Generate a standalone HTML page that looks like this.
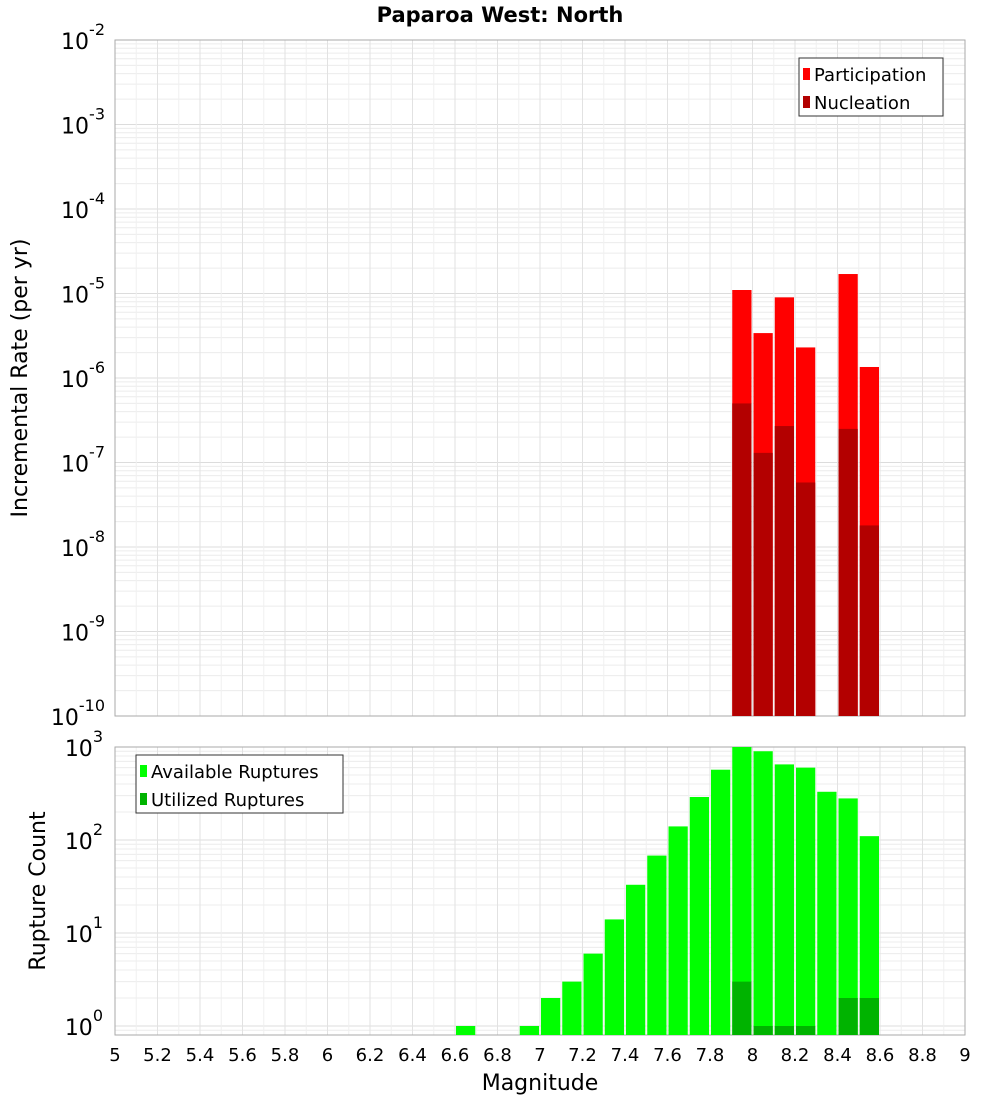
<!DOCTYPE html>
<html><head><meta charset="utf-8"><style>
body{margin:0;background:#fff;font-family:"Liberation Sans","DejaVu Sans",sans-serif;}
svg text{font-family:"DejaVu Sans","Liberation Sans",sans-serif;}
</style></head><body>
<svg id="chart" width="1000" height="1100" xmlns="http://www.w3.org/2000/svg">
<rect width="1000" height="1100" fill="#fff"/>
<text x="500" y="22" text-anchor="middle" font-size="21" font-weight="bold">Paparoa West: North</text>
<g id="gtop"></g><g id="gbot"></g>
<text transform="translate(27,378) rotate(-90)" text-anchor="middle" font-size="22">Incremental Rate (per yr)</text>
<text transform="translate(45,891) rotate(-90)" text-anchor="middle" font-size="22">Rupture Count</text>
<text x="540" y="1090" text-anchor="middle" font-size="22">Magnitude</text>
</svg>
<script>
const partMags=[7.95,8.05,8.15,8.25,8.45,8.55];
const partVals=[1.1e-5,3.4e-6,9e-6,2.3e-6,1.7e-5,1.35e-6];
const nuclVals=[5e-7,1.3e-7,2.7e-7,5.8e-8,2.5e-7,1.8e-8];
const availMags=[6.65,6.95,7.05,7.15,7.25,7.35,7.45,7.55,7.65,7.75,7.85,7.95,8.05,8.15,8.25,8.35,8.45,8.55];
const availVals=[1,1,2,3,6,14,33,68,140,290,570,1000,900,650,600,330,280,110];
const utilMags=[7.95,8.05,8.15,8.25,8.45,8.55];
const utilVals=[3,1,1,1,2,2];
const xTicks=["5","5.2","5.4","5.6","5.8","6","6.2","6.4","6.6","6.8","7","7.2","7.4","7.6","7.8","8","8.2","8.4","8.6","8.8","9"];
const NS="http://www.w3.org/2000/svg";
const X0=115,X1=965;
const x=m=>X0+(m-5)*(X1-X0)/4;
function mk(p,t,a){const e=document.createElementNS(NS,t);for(const k in a)e.setAttribute(k,a[k]);p.appendChild(e);return e;}
const yTop=v=>40+(-2-Math.log10(v))*84.5;
const yBot=v=>1026-Math.log10(v)*93;
function panel(g,yt,yb,ymap,dmin,dmax,prefix){
  for(let d=dmin;d<=dmax;d++){for(let k=1;k<10;k++){const v=k*Math.pow(10,d);const yy=ymap(v);if(yy<yt-0.5||yy>yb+0.5)continue;
    const l=mk(g,'line',{x1:X0,x2:X1,y1:yy,y2:yy,stroke:k==1?'#dcdcdc':'#ececec','stroke-width':1});
    
    }}
  for(let i=0;i<=40;i++){const xx=x(5+i*0.1);const l=mk(g,'line',{x1:xx,x2:xx,y1:yt,y2:yb,stroke:i%2?'#f0f0f0':'#e2e2e2'});
    
    }
  const r=mk(g,'rect',{x:X0,y:yt,width:X1-X0,height:yb-yt,fill:'none',stroke:'#aaa'});
  
  
}
function bars(g,mags,vals,ymap,yb,fill,name){
  mags.forEach((m,i)=>{const y0=Math.max(ymap(vals[i]),0);const b=mk(g,'rect',{x:x(m-0.05)+1,y:y0,width:x(m+0.05)-x(m-0.05)-2,height:yb-y0,fill:fill});
    
    });
}
function ylab(g,xr,yy,exp,name){const t=mk(g,'text',{x:xr,y:yy+9,'text-anchor':'end','font-size':22});
  
  
  t.textContent='10';const s=mk(t,'tspan',{dy:-14,'font-size':16});s.textContent=exp;}
const gTop=document.getElementById('gtop'),gBot=document.getElementById('gbot');
panel(gTop,40,716,yTop,-10,-3,'top');
bars(gTop,partMags,partVals,yTop,716,'#ff0000','participation');
bars(gTop,partMags,nuclVals,yTop,716,'#b30000','nucleation');
for(let e=-2;e>=-10;e--)ylab(gTop,105,yTop(Math.pow(10,e)),String(e),'top-y-tick-label');
panel(gBot,747,1035,yBot,-1,2,'bottom');
bars(gBot,availMags,availVals,yBot,1035,'#00ff00','available');
bars(gBot,utilMags,utilVals,yBot,1035,'#00b300','utilized');
for(let e=0;e<=3;e++)ylab(gBot,103,yBot(Math.pow(10,e)),String(e),'bottom-y-tick-label');
xTicks.forEach(t=>{const v=parseFloat(t);const tx=mk(gBot,'text',{x:x(v),y:1061,'text-anchor':'middle','font-size':18});
  
  
  tx.textContent=t;});
function legend(g,bx,by,w,items,name){const r=mk(g,'rect',{x:bx,y:by,width:w,height:58,fill:'#fff',stroke:'#333'});
  
  
  items.forEach((it,i)=>{const yy=by+16+i*28;mk(g,'rect',{x:bx+4,y:yy-6,width:7,height:12,fill:it[1]});
    const t=mk(g,'text',{x:bx+15,y:yy+7,'font-size':18});
    
    
    t.textContent=it[0];});}
legend(gTop,799,58,144,[['Participation','#ff0000'],['Nucleation','#b30000']],'top-legend');
legend(gBot,136,755,207,[['Available Ruptures','#00ff00'],['Utilized Ruptures','#00b300']],'bottom-legend');
</script>
</body></html>
